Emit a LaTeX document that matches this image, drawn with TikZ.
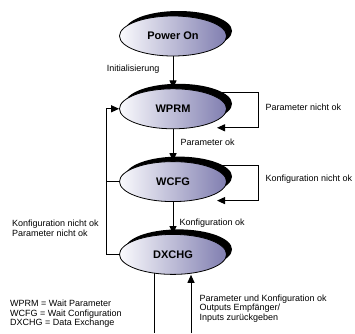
\documentclass[tikz,border=0pt]{standalone}
\usepackage{fontspec}
\setmainfont{Liberation Sans}
\usetikzlibrary{positioning}
\usetikzlibrary{shapes.geometric}
\usetikzlibrary{shadows}
\usetikzlibrary{arrows.meta}
\definecolor{stateleft}{RGB}{250,250,253}
\definecolor{stateright}{RGB}{128,126,176}
\pgfdeclarelayer{background}
\pgfsetlayers{background,main}

\begin{document}
\begin{tikzpicture}[x=1pt, y=1pt, node distance=32pt,  state/.style={    ellipse,    draw,    line width=0.8pt,    minimum width=107pt,    minimum height=40pt,    inner sep=0pt,    left color=stateleft,    right color=stateright,    general shadow={fill=black, shadow xshift=5.5pt, shadow yshift=5pt},    font=\fontsize{11}{13}\selectfont\bfseries  },  arrow/.style={    -{Triangle[length=8pt,width=7pt]},    line width=1pt  },  line/.style={    line width=1pt  },  lbl/.style={    font=\fontsize{9}{9.5}\selectfont,    inner sep=0pt  }]
		\useasboundingbox (0,0) rectangle (355,333);
		% Nodes
		\node[state] (PowerOn) at (173,297) {Power On};
		\node[state, below=of PowerOn] (WPRM) {WPRM};
		\node[state, below=of WPRM] (WCFG) {WCFG};
		\node[state, below=of WCFG] (DXCHG) {DXCHG};
		\coordinate (outL) at (154,0);
		\coordinate (inR) at (191,0);
		% Arrows
		\begin{pgfonlayer}{background}
		\draw[arrow] (PowerOn) -- (WPRM) node[lbl, pos=0.4, left=13pt] {Initialisierung};
		\draw[arrow] (WPRM) -- (WCFG) node[lbl, pos=0.4, right=7pt] {Parameter ok};
		\draw[arrow] (WCFG) -- (DXCHG) node[lbl, pos=0.65, right=6pt] {Konfiguration ok};
		\draw[arrow] ([yshift=16pt]WPRM.center) -| ([xshift=85pt,yshift=-19pt]WPRM.center) node[lbl, pos=0.7, right=7pt] {Parameter nicht ok} -- ([xshift=44pt,yshift=-19pt]WPRM.center);
		\draw[arrow] ([yshift=16pt]WCFG.center) -| ([xshift=85pt,yshift=-19pt]WCFG.center) node[lbl, pos=0.7, right=7pt] {Konfiguration nicht ok} -- ([xshift=44pt,yshift=-19pt]WCFG.center);
		\draw[arrow] (DXCHG.west) -- ++(-13pt,0) |- (WPRM.west) node[lbl, pos=0.09, left=7pt, align=left] {Konfiguration nicht ok\\Parameter nicht ok};
		\draw[line] (WCFG.west) -- ++(-13pt,0);
		\draw[line] (outL |- DXCHG.center) -- (outL);
		\draw[arrow] (inR) -- (inR |- DXCHG.south) node[lbl, pos=0.42, right=8pt, align=left] {Parameter und Konfiguration ok\\Outputs Empfänger/\\Inputs zurückgeben};
		\end{pgfonlayer}
		% Labels
		\node[lbl, align=left, anchor=west] (legend) at (10,19) {WPRM = Wait Parameter\\WCFG = Wait Configuration\\DXCHG = Data Exchange};
	\end{tikzpicture}
\end{document}
